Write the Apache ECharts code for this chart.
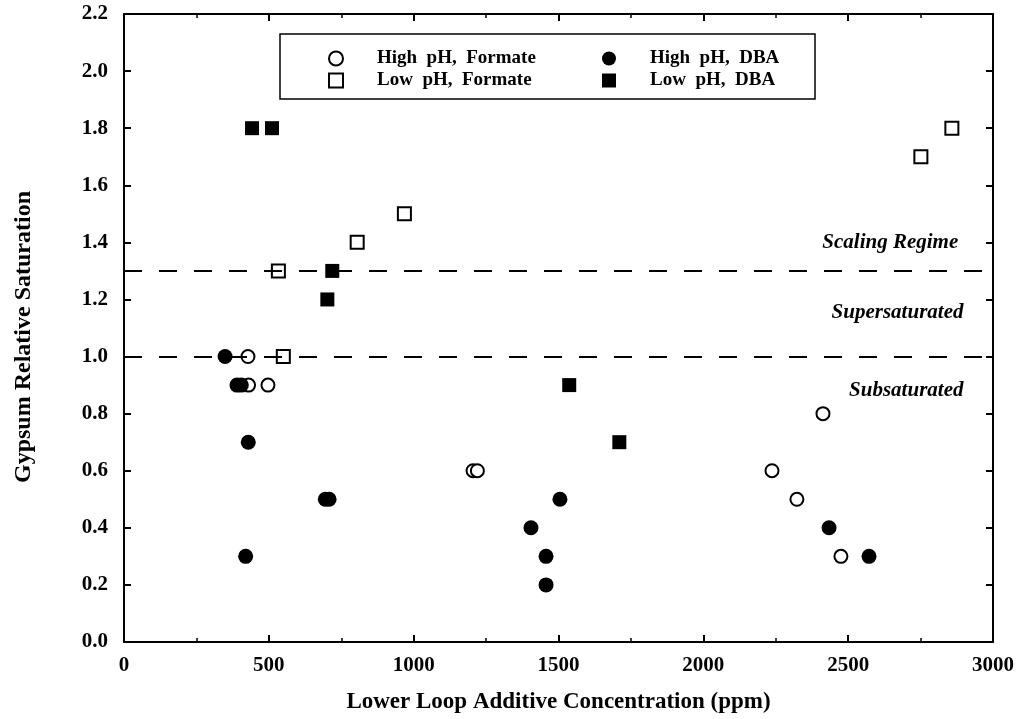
<!DOCTYPE html>
<html>
<head>
<meta charset="utf-8">
<script src="https://cdn.jsdelivr.net/npm/echarts@6/dist/echarts.min.js"></script>
<style>html,body{margin:0;padding:0;background:#fff}#c{width:1021px;height:719px}</style>
</head>
<body>
<div id="c"></div>
<script>
// ---- data ----
const xTickLabels = ['0', '500', '1000', '1500', '2000', '2500', '3000'];
const yTickLabels = ['0.0','0.2','0.4','0.6','0.8','1.0','1.2','1.4','1.6','1.8','2.0','2.2'];
const seriesNames = ['High pH, Formate', 'High pH, DBA', 'Low pH, Formate', 'Low pH, DBA'];
const highPhFormate = [[428,1.0],[430,0.9],[497,0.9],[1205,0.6],[1220,0.6],[2237,0.6],[2323,0.5],[2413,0.8],[2475,0.3]];
const highPhDBA = [[349,1.0],[390,0.9],[405,0.9],[429,0.7],[420,0.3],[695,0.5],[708,0.5],[1405,0.4],[1457,0.3],[1457,0.2],[1505,0.5],[2434,0.4],[2572,0.3]];
const lowPhFormate = [[533,1.3],[550,1.0],[805,1.4],[968,1.5],[2751,1.7],[2858,1.8]];
const lowPhDBA = [[442,1.8],[511,1.8],[702,1.2],[719,1.3],[1537,0.9],[1710,0.7]];
const thresholds = [1.3, 1.0];
const regionLabels = ['Scaling Regime', 'Supersaturated', 'Subsaturated'];
const regionLabelPos = [[2880,1.4],[2898,1.155],[2898,0.88]];

const FONT = 'Liberation Serif';
const chart = echarts.init(document.getElementById('c'), null, {renderer:'canvas'});

function axisCommon(extra) {
  return Object.assign({
    axisLine: {show:true, onZero:false, lineStyle:{color:'#000', width:2}},
    axisTick: {show:true, inside:true, length:7, lineStyle:{color:'#000', width:2}},
    splitLine: {show:false}
  }, extra);
}

const xMain = axisCommon({
  type:'value', min:0, max:3000, interval:500, position:'bottom',
  minorTick:{show:true, splitNumber:2, length:4, lineStyle:{color:'#000', width:1.5}},
  axisLabel:{color:'#000', fontFamily:FONT, fontWeight:'bold', fontSize:21, margin:13,
    formatter:(v)=>xTickLabels[Math.round(v/500)]},
  name:'Lower Loop Additive Concentration (ppm)', nameLocation:'middle', nameGap:49,
  nameTextStyle:{color:'#000', fontFamily:FONT, fontWeight:'bold', fontSize:23}
});
const xTop = axisCommon({
  type:'value', min:0, max:3000, interval:500, position:'top',
  minorTick:{show:true, splitNumber:2, length:4, lineStyle:{color:'#000', width:1.5}},
  axisLabel:{show:false}
});
const yMain = axisCommon({
  type:'value', min:0, max:2.2, interval:0.2, position:'left',
  axisLabel:{color:'#000', fontFamily:FONT, fontWeight:'bold', fontSize:21, margin:16,
    formatter:(v)=>yTickLabels[Math.round(v/0.2)]},
  name:'Gypsum Relative Saturation', nameLocation:'middle', nameGap:88, nameRotate:90,
  nameTextStyle:{color:'#000', fontFamily:FONT, fontWeight:'bold', fontSize:24, padding:[0,18,0,0]}
});
const yRight = axisCommon({
  type:'value', min:0, max:2.2, interval:0.2, position:'right',
  axisLabel:{show:false}
});

const openStyle = {color:'#fff', borderColor:'#000', borderWidth:2, opacity:1};
const fillStyle = {color:'#000', borderColor:'#000', borderWidth:0, opacity:1};
const legendText = {color:'#000', fontFamily:FONT, fontWeight:'bold', fontSize:19, padding:[0,0,0,29]};

const option = {
  animation:false,
  backgroundColor:'#fff',
  grid:{left:124, right:28, top:14, bottom:75, containLabel:false},
  xAxis:[xMain, xTop],
  yAxis:[yMain, yRight],
  legend:[
    {data:[seriesNames[0], seriesNames[2]], orient:'vertical', left:323, top:44,
     itemWidth:14, itemHeight:14, itemGap:3, selectedMode:false, textStyle:legendText,
     formatter:(n)=>n.replace(/ /g,'\u00a0\u00a0')},
    {data:[seriesNames[1], seriesNames[3]], orient:'vertical', left:597, top:44,
     itemWidth:14, itemHeight:14, itemGap:3, selectedMode:false, textStyle:legendText,
     formatter:(n)=>n.replace(/ /g,'\u00a0\u00a0')}
  ],
  graphic:[
    {type:'rect', shape:{x:280, y:34, width:535, height:65}, style:{fill:'none', stroke:'#000', lineWidth:1.5}, z:10}
  ],
  series:[
    {name:seriesNames[2], type:'scatter', symbol:'rect', symbolSize:13, data:lowPhFormate, itemStyle:openStyle, z:3},
    {name:seriesNames[0], type:'scatter', symbol:'circle', symbolSize:13, data:highPhFormate, itemStyle:openStyle, z:3},
    {name:seriesNames[1], type:'scatter', symbol:'circle', symbolSize:15, data:highPhDBA, itemStyle:fillStyle, z:4},
    {name:seriesNames[3], type:'scatter', symbol:'rect', symbolSize:14, data:lowPhDBA, itemStyle:fillStyle, z:4,
     markLine:{silent:true, symbol:['none','none'], label:{show:false},
       lineStyle:{color:'#000', width:2, type:[18,17]},
       data:thresholds.map(t=>({yAxis:t}))}}
  ]
};
chart.setOption(option);

const gfx = regionLabels.map((t,i)=>{
  const p = chart.convertToPixel({xAxisIndex:0, yAxisIndex:0}, regionLabelPos[i]);
  return {type:'text', x:p[0], y:p[1], style:{text:t, fill:'#000', font:'italic bold 21px "Liberation Serif"', textAlign:'right', textVerticalAlign:'middle'}, z:10};
});
chart.setOption({graphic:option.graphic.concat(gfx)});
</script>
</body>
</html>
